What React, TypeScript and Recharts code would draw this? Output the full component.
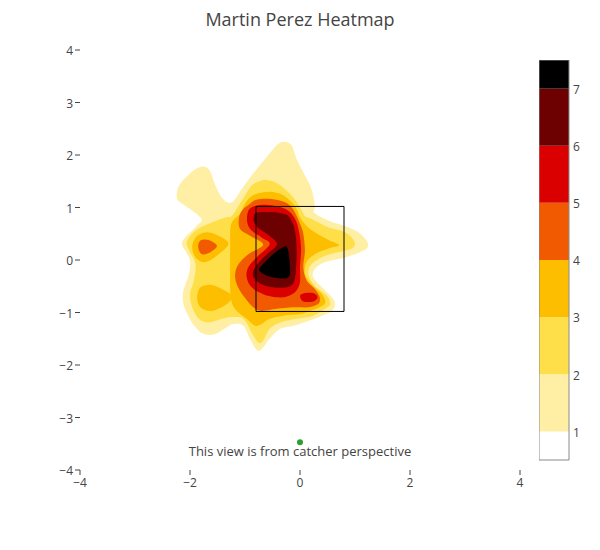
import React from "react";
import { ScatterChart, Scatter, XAxis, YAxis } from "recharts";

type Pt = [number, number];

// reversed "Hot" contour bands, from below level 1 up to above level 7
const levelColors = ["#ffffff", "#ffefa4", "#ffdf49", "#fdbe00", "#f15a00", "#db0000", "#6d0000", "#000000"];
const colorbarEdges = [0.5, 1, 2, 3, 4, 5, 6, 7, 7.5];
const colorbarTicks = [1, 2, 3, 4, 5, 6, 7];
const xTicks = [-4, -2, 0, 2, 4];
const yTicks = [-4, -3, -2, -1, 0, 1, 2, 3, 4];

// contour outlines (plate x, height z)
const level1: Pt[] = [
  [-0.27, 2.25], [-0.15, 2.18], [-0.06, 1.92], [0.09, 1.61], [0.21, 1.35], [0.27, 1.03], [0.26, 0.9],
  [0.52, 0.75], [0.82, 0.65], [1.06, 0.53], [1.21, 0.37], [1.23, 0.24], [1.09, 0.15], [0.82, 0.05],
  [0.46, -0.04], [0.27, -0.17], [0.24, -0.33], [0.4, -0.52], [0.58, -0.71], [0.64, -0.84], [0.58, -0.97],
  [0.4, -1.06], [0.15, -1.16], [-0.12, -1.25], [-0.36, -1.31], [-0.55, -1.5], [-0.7, -1.7], [-0.79, -1.71],
  [-0.91, -1.5], [-1.03, -1.25], [-1.21, -1.22], [-1.33, -1.28], [-1.54, -1.41], [-1.75, -1.41],
  [-1.9, -1.28], [-2.02, -1.09], [-2.12, -0.84], [-2.12, -0.59], [-2.02, -0.27], [-2.0, -0.01],
  [-2.09, 0.18], [-2.15, 0.31], [-2.09, 0.43], [-1.88, 0.65], [-1.79, 0.78], [-2.0, 0.97], [-2.21, 1.13],
  [-2.24, 1.26], [-2.18, 1.45], [-1.94, 1.7], [-1.76, 1.78], [-1.64, 1.7], [-1.55, 1.45], [-1.4, 1.16],
  [-1.24, 1.1], [-1.06, 1.35], [-0.88, 1.61], [-0.64, 1.92], [-0.4, 2.21],
];
const level2: Pt[] = [
  [-0.76, 1.49], [-0.64, 1.53], [-0.45, 1.48], [-0.27, 1.35], [-0.12, 1.19], [0, 1.0], [0.09, 0.84],
  [0.21, 0.78], [0.52, 0.62], [0.82, 0.53], [0.98, 0.37], [0.98, 0.25], [0.82, 0.18], [0.46, 0.08],
  [0.21, -0.08], [0.15, -0.27], [0.27, -0.49], [0.49, -0.68], [0.55, -0.84], [0.46, -0.93], [0.24, -1.06],
  [-0.06, -1.12], [-0.36, -1.19], [-0.55, -1.31], [-0.67, -1.54], [-0.76, -1.57], [-0.88, -1.38],
  [-1.03, -1.12], [-1.27, -1.09], [-1.42, -1.12], [-1.66, -1.19], [-1.84, -1.12], [-1.96, -0.9],
  [-2.0, -0.65], [-1.93, -0.39], [-1.9, -0.08], [-2.0, 0.15], [-2.06, 0.34], [-1.9, 0.56], [-1.66, 0.69],
  [-1.36, 0.81], [-1.24, 0.84], [-1.12, 1.03], [-1.0, 1.23], [-0.88, 1.42],
];
const level3: Pt[] = [
  [-0.79, 1.26], [-0.58, 1.3], [-0.36, 1.26], [-0.18, 1.13], [-0.06, 0.97], [0, 0.81], [0.15, 0.62],
  [0.33, 0.49], [0.52, 0.38], [0.71, 0.28], [0.52, 0.22], [0.27, 0.11], [0.12, -0.04],
  [0.09, -0.27], [0.21, -0.46], [0.4, -0.65], [0.46, -0.81], [0.36, -0.9], [0.18, -0.97], [0, -1.03],
  [-0.3, -1.06], [-0.55, -1.12], [-0.7, -1.22], [-0.82, -1.25], [-0.97, -1.12], [-1.15, -0.97],
  [-1.24, -0.81], [-1.27, -0.55], [-1.27, -0.17], [-1.27, 0.31], [-1.25, 0.69], [-1.09, 0.88],
  [-1.0, 1.07], [-0.91, 1.19],
];
const level3Left: Pt[] = [
  [-1.96, 0.27], [-1.87, 0.46], [-1.69, 0.53], [-1.48, 0.46], [-1.3, 0.31], [-1.48, 0.11], [-1.72, -0.04], [-1.9, 0.05],
];
const level3Low: Pt[] = [
  [-1.87, -0.71], [-1.81, -0.52], [-1.63, -0.47], [-1.42, -0.55], [-1.24, -0.68], [-1.33, -0.84], [-1.6, -0.97], [-1.81, -0.9],
];
const level4: Pt[] = [
  [-0.79, 1.15], [-0.52, 1.16], [-0.27, 1.1], [-0.15, 1.0], [-0.08, 0.88], [0, 0.69], [0.06, 0.5],
  [0.09, 0.18], [0.06, -0.14], [0.12, -0.39], [0.27, -0.55], [0.36, -0.71], [0.33, -0.84], [0.15, -0.9],
  [-0.12, -0.9], [-0.42, -0.93], [-0.7, -0.97], [-0.85, -0.9], [-1.03, -0.68], [-1.15, -0.46],
  [-1.18, -0.27], [-1.12, -0.08], [-0.94, 0.11], [-0.67, 0.29], [-0.91, 0.46], [-1.09, 0.59],
  [-1.11, 0.8], [-1.05, 0.95], [-0.91, 1.07],
];
const level4Left: Pt[] = [
  [-1.85, 0.24], [-1.81, 0.37], [-1.66, 0.38], [-1.51, 0.27], [-1.63, 0.15], [-1.78, 0.11],
];
const level5: Pt[] = [
  [-0.82, 1.03], [-0.58, 1.05], [-0.33, 1.0], [-0.18, 0.91], [-0.07, 0.74], [-0.01, 0.5], [0.02, 0.21],
  [0, -0.13], [0, -0.42], [-0.07, -0.59], [-0.22, -0.69], [-0.42, -0.71], [-0.67, -0.65], [-0.88, -0.52],
  [-0.97, -0.33], [-0.94, -0.14], [-0.79, 0.05], [-0.55, 0.3], [-0.7, 0.43], [-0.88, 0.56], [-0.96, 0.72],
  [-0.94, 0.94],
];
const level5Low: Pt[] = [
  [0, -0.68], [0.09, -0.63], [0.24, -0.63], [0.32, -0.71], [0.24, -0.79], [0.06, -0.79],
];
const level6: Pt[] = [
  [-0.76, 0.91], [-0.45, 0.91], [-0.24, 0.86], [-0.15, 0.74], [-0.09, 0.55], [-0.06, 0.21], [-0.07, -0.13],
  [-0.11, -0.42], [-0.24, -0.52], [-0.49, -0.52], [-0.7, -0.46], [-0.84, -0.34], [-0.85, -0.21],
  [-0.76, -0.06], [-0.6, 0.11], [-0.42, 0.3], [-0.58, 0.48], [-0.76, 0.61], [-0.84, 0.74], [-0.83, 0.86],
];
const level7: Pt[] = [
  [-0.24, 0.25], [-0.2, 0.08], [-0.18, -0.17], [-0.21, -0.33], [-0.36, -0.35], [-0.6, -0.3],
  [-0.74, -0.2], [-0.7, -0.11], [-0.49, 0.11], [-0.33, 0.23],
];

const strikeZone: Pt[] = [[-0.8, -0.98], [0.8, -0.98], [0.8, 1.02], [-0.8, 1.02]];
const catcherSpot = [{ x: 0, y: -3.47, note: "This view is from catcher perspective" }];

const contours: { pts: Pt[]; level: number }[] = [
  { pts: level1, level: 1 },
  { pts: level2, level: 2 },
  { pts: level3, level: 3 },
  { pts: level3Left, level: 3 },
  { pts: level3Low, level: 3 },
  { pts: level4, level: 4 },
  { pts: level4Left, level: 4 },
  { pts: level5, level: 5 },
  { pts: level5Low, level: 5 },
  { pts: level6, level: 6 },
  { pts: level7, level: 7 },
];

const toXY = (pts: Pt[]) => pts.map(([x, y]) => ({ x, y }));

type P = { x: number; y: number };

// closed catmull-rom through the projected points
function smoothClosed(pts: P[]) {
  const n = pts.length;
  let d = `M${pts[0].x},${pts[0].y}`;
  for (let i = 0; i < n; i++) {
    const p0 = pts[(i - 1 + n) % n];
    const p1 = pts[i];
    const p2 = pts[(i + 1) % n];
    const p3 = pts[(i + 2) % n];
    const c1x = p1.x + (p2.x - p0.x) / 6;
    const c1y = p1.y + (p2.y - p0.y) / 6;
    const c2x = p2.x - (p3.x - p1.x) / 6;
    const c2y = p2.y - (p3.y - p1.y) / 6;
    d += ` C${c1x},${c1y} ${c2x},${c2y} ${p2.x},${p2.y}`;
  }
  return d + "Z";
}

function straightClosed(pts: P[]) {
  return pts.map((p, i) => `${i ? "L" : "M"}${p.x},${p.y}`).join(" ") + "Z";
}

const filled = (fill: string) => (props: any) => <path d={smoothClosed(props.points)} fill={fill} stroke="none" />;
const band = (fill: string) => (props: any) => <path d={straightClosed(props.points)} fill={fill} stroke="none" />;
const outline = (stroke: string) => (props: any) => (
  <path d={straightClosed(props.points)} fill="none" stroke={stroke} strokeWidth={1} />
);
const noDot = () => <g />;

const minus = (v: number) => (v < 0 ? `\u2212${Math.abs(v)}` : `${v}`);
const tickStyle = { fill: "#444", fontSize: 12 };

function CatcherDot(props: any) {
  const { cx, cy, payload } = props;
  return (
    <g>
      <circle cx={cx} cy={cy} r={3} fill="#2ca02c" />
      <text x={cx} y={cy + 14} textAnchor="middle" fill="#444" fontSize={13}>
        {payload.note}
      </text>
    </g>
  );
}

function ColorBar() {
  const bands = levelColors.map((c, i) => ({
    color: c,
    pts: [[0, colorbarEdges[i]], [1, colorbarEdges[i]], [1, colorbarEdges[i + 1]], [0, colorbarEdges[i + 1]]] as Pt[],
  }));
  const frame: Pt[] = [[0, colorbarEdges[0]], [1, colorbarEdges[0]], [1, colorbarEdges[8]], [0, colorbarEdges[8]]];
  return (
    <ScatterChart width={60} height={410} margin={{ top: 0, right: 0, bottom: 10, left: 0 }}>
      <XAxis type="number" dataKey="x" domain={[0, 1]} hide />
      <YAxis
        type="number"
        dataKey="y"
        orientation="right"
        domain={[0.5, 7.5]}
        ticks={colorbarTicks}
        interval={0}
        width={30}
        axisLine={false}
        tickLine={false}
        tickSize={0}
        tickMargin={4}
        tick={{ ...tickStyle, dy: 1 }}
      />
      {bands.map((b, i) => (
        <Scatter key={i} data={toXY(b.pts)} line={band(b.color)} lineType="joint" shape={noDot} isAnimationActive={false} />
      ))}
      <Scatter data={toXY(frame)} line={outline("#8a8a8a")} lineType="joint" shape={noDot} isAnimationActive={false} />
    </ScatterChart>
  );
}

export default function App() {
  return (
    <div style={{ position: "relative", width: 584, height: 534, fontFamily: "'Open Sans', verdana, arial, sans-serif" }}>
      <div
        style={{
          position: "absolute",
          top: 0,
          left: 0,
          width: 584,
          textAlign: "center",
          fontSize: 18,
          lineHeight: "22px",
          color: "#444",
        }}
      >
        Martin Perez Heatmap
      </div>
      <ScatterChart width={584} height={534} margin={{ top: 42, right: 72, bottom: 42, left: 32 }}>
        <XAxis
          type="number"
          dataKey="x"
          domain={[-4, 4]}
          ticks={xTicks}
          interval={0}
          allowDataOverflow
          axisLine={false}
          tickSize={5}
          tickMargin={3}
          tickLine={{ stroke: "#444" }}
          tick={tickStyle}
          tickFormatter={minus}
        />
        <YAxis
          type="number"
          dataKey="y"
          domain={[-4, 4]}
          ticks={yTicks}
          interval={0}
          allowDataOverflow
          width={40}
          axisLine={false}
          tickSize={5}
          tickMargin={2}
          tickLine={{ stroke: "#444" }}
          tick={{ ...tickStyle, dy: 1 }}
          tickFormatter={minus}
        />
        {contours.map((c, i) => (
          <Scatter
            key={i}
            data={toXY(c.pts)}
            line={filled(levelColors[c.level])}
            lineType="joint"
            shape={noDot}
            isAnimationActive={false}
          />
        ))}
        <Scatter data={toXY(strikeZone)} line={outline("#000")} lineType="joint" shape={noDot} isAnimationActive={false} />
        <Scatter data={catcherSpot} shape={CatcherDot} isAnimationActive={false} />
      </ScatterChart>
      <div style={{ position: "absolute", left: 531, top: 52 }}>
        <ColorBar />
      </div>
    </div>
  );
}
